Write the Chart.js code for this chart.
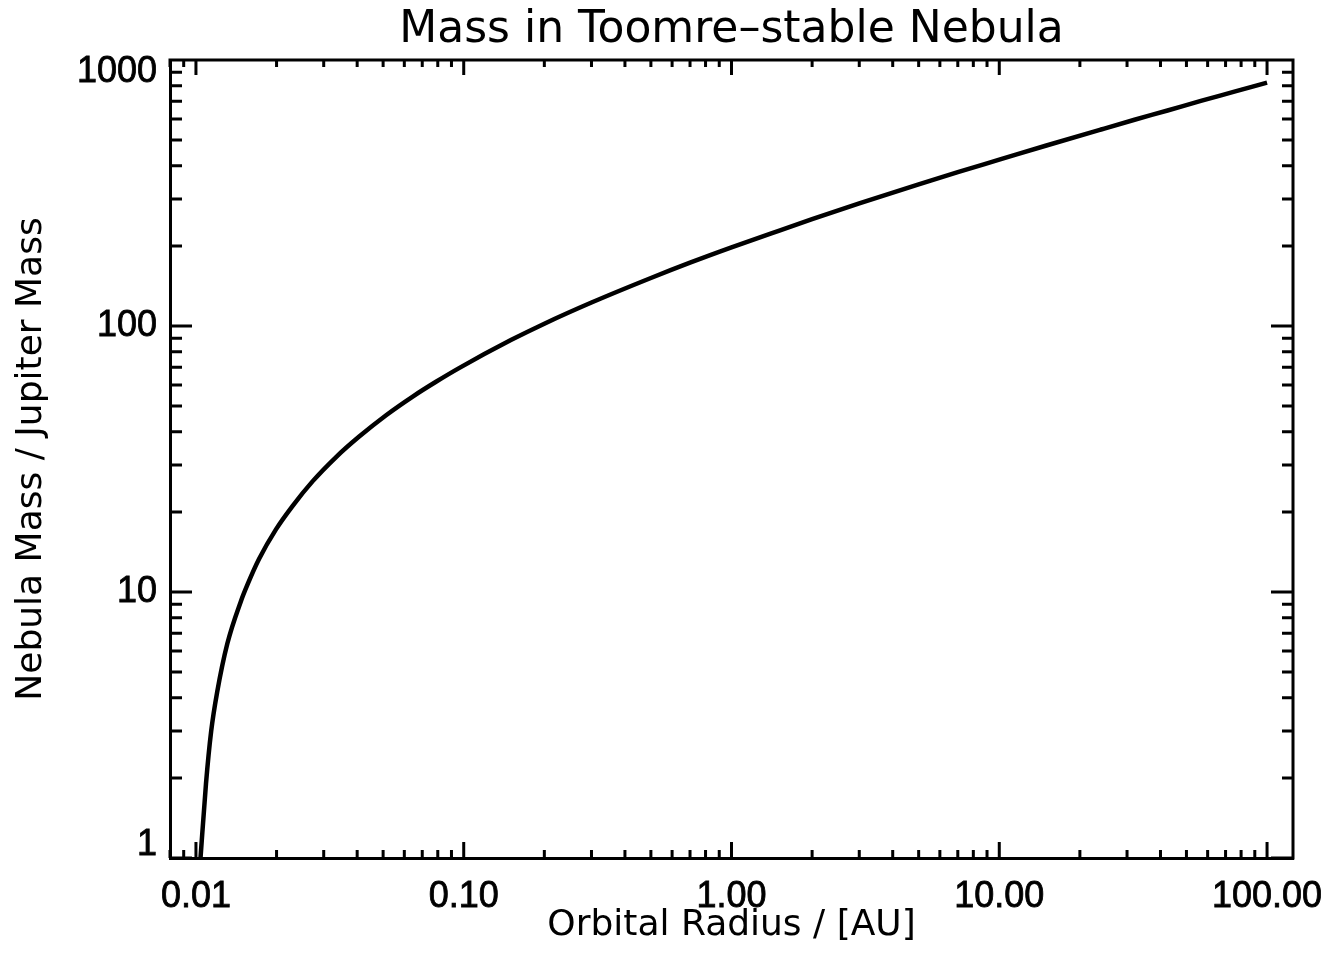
<!DOCTYPE html>
<html lang="en">
<head>
  <meta charset="UTF-8" />
  <title>Mass in Toomre-stable Nebula</title>
  <style>
    html, body { margin: 0; padding: 0; background: #fff; }
    #wrap { width: 1333px; height: 963px; }
  </style>
  <script src="https://cdn.jsdelivr.net/npm/chart.js"></script>
</head>
<body>
  <div id="wrap"><canvas id="massChart"></canvas></div>
  <script>
    // orbital radius [AU] and nebula mass [Jupiter masses]
    const radiusAU = [0.0104, 0.0109, 0.0114, 0.0120, 0.0131, 0.0147, 0.0156, 0.0172, 0.0199, 0.0229,
      0.0272, 0.0333, 0.0407, 0.0513, 0.0645, 0.0788, 0.0964, 0.15, 0.2, 0.3,
      0.5, 0.7, 1.0, 1.5, 2.0, 3.0, 5.0, 7.0, 10, 15,
      24, 32, 42.5, 56.6, 75.5, 100];
    const massMJ = [1.0, 1.9, 3.0, 4.2, 6.4, 9.2, 10.7, 13.3, 17.2, 21,
      26, 32.1, 38.4, 46.2, 54.3, 61.7, 69.6, 88.5, 102, 122.5,
      151.5, 173, 197.5, 228, 252, 289, 341, 379, 422, 477,
      548, 596, 646, 702, 760, 822];

    const xTickValues = [0.01, 0.1, 1, 10, 100];
    const xTickLabels = ["0.01", "0.10", "1.00", "10.00", "100.00"];
    const yTickValues = [1, 10, 100, 1000];
    const yTickLabels = ["1", "10", "100", "1000"];
    const xMin = 0.008, xMax = 125;
    const yMin = 1, yMax = 1000;

    // 2..9 x 10^n between lo and hi
    function minorTicks(lo, hi) {
      const out = [];
      for (let d = Math.floor(Math.log10(lo)); d <= Math.ceil(Math.log10(hi)); d++) {
        for (let m = 2; m <= 9; m++) {
          const v = m * Math.pow(10, d);
          if (v >= lo * 0.999 && v <= hi * 1.001) out.push(v);
        }
      }
      return out;
    }
    const xMinor = minorTicks(xMin, xMax);
    const yMinor = minorTicks(yMin, yMax);

    // IDL style box: ticks pointing inwards on all four sides
    const frameTicks = {
      id: "frameTicks",
      afterDatasetsDraw(chart) {
        const { ctx, chartArea: a, scales: { x, y } } = chart;
        ctx.save();
        ctx.strokeStyle = "#000";
        ctx.lineWidth = 3;
        ctx.beginPath();
        ctx.moveTo(a.left - 1.5, a.top);
        ctx.lineTo(a.right, a.top);
        ctx.lineTo(a.right, a.bottom + 1.5);
        const xt = (v, lb, lt) => {
          const p = x.getPixelForValue(v);
          ctx.moveTo(p, a.bottom); ctx.lineTo(p, a.bottom - lb);
          ctx.moveTo(p, a.top); ctx.lineTo(p, a.top + lt);
        };
        const yt = (v, ll, lr) => {
          const p = y.getPixelForValue(v);
          ctx.moveTo(a.left, p); ctx.lineTo(a.left + ll, p);
          ctx.moveTo(a.right, p); ctx.lineTo(a.right - lr, p);
        };
        xTickValues.forEach(v => xt(v, 16, 15));
        xMinor.forEach(v => xt(v, 8, 7));
        yTickValues.forEach(v => yt(v, 22, 22));
        yMinor.forEach(v => yt(v, 12, 11));
        ctx.stroke();
        ctx.restore();
      }
    };

    new Chart(document.getElementById("massChart"), {
      type: "line",
      data: {
        datasets: [{
          data: radiusAU.map((r, i) => ({ x: r, y: massMJ[i] })),
          borderColor: "#000",
          borderWidth: 4.5,
          pointRadius: 0,
          cubicInterpolationMode: "monotone",
          fill: false
        }]
      },
      options: {
        responsive: true,
        maintainAspectRatio: false,
        animation: false,
        layout: { autoPadding: false, padding: { left: 0, right: 40, top: 0, bottom: 0 } },
        plugins: {
          legend: { display: false },
          tooltip: { enabled: false },
          title: {
            display: true,
            fullSize: false,
            text: "Mass in Toomre–stable Nebula",
            color: "#000",
            font: { family: "DejaVu Sans", size: 44, weight: "normal" },
            padding: { top: 4, bottom: 3.2 }
          }
        },
        scales: {
          x: {
            type: "logarithmic",
            position: "bottom",
            min: xMin,
            max: xMax,
            grid: { display: false },
            border: { display: true, color: "#000", width: 3 },
            afterBuildTicks: s => { s.ticks = xTickValues.map(v => ({ value: v })); },
            afterFit: s => { s.height = 105; s.paddingLeft = 0; s.paddingRight = 0; },
            ticks: {
              autoSkip: false,
              maxRotation: 0,
              color: "#000",
              textStrokeColor: "#000",
              textStrokeWidth: 0.8,
              padding: 9,
              font: { family: "Liberation Sans", size: 36 },
              callback: (v, i) => xTickLabels[i]
            },
            title: {
              display: true,
              text: "Orbital Radius / [AU]",
              color: "#000",
              font: { family: "DejaVu Sans", size: 36 },
              padding: { top: 0, bottom: 16 }
            }
          },
          y: {
            type: "logarithmic",
            position: "left",
            min: yMin,
            max: yMax,
            grid: { display: false },
            border: { display: true, color: "#000", width: 3 },
            afterBuildTicks: s => { s.ticks = yTickValues.map(v => ({ value: v })); },
            afterFit: s => { s.width = 170; s.paddingTop = 0; s.paddingBottom = 0; },
            ticks: {
              autoSkip: false,
              color: "#000",
              textStrokeColor: "#000",
              textStrokeWidth: 0.8,
              padding: 5,
              font: { family: "Liberation Sans", size: 36, lineHeight: "25px" },
              // end labels sit inside the axis range, like the original
              callback: (v, i, t) => {
                if (i === t.length - 1) return ["", yTickLabels[i]];
                if (i === 0) return [yTickLabels[i], ""];
                return yTickLabels[i];
              }
            },
            title: {
              display: true,
              text: "Nebula Mass / Jupiter Mass",
              color: "#000",
              font: { family: "DejaVu Sans", size: 36 },
              padding: { top: 10, bottom: 0 }
            }
          }
        }
      },
      plugins: [frameTicks]
    });
  </script>
</body>
</html>
